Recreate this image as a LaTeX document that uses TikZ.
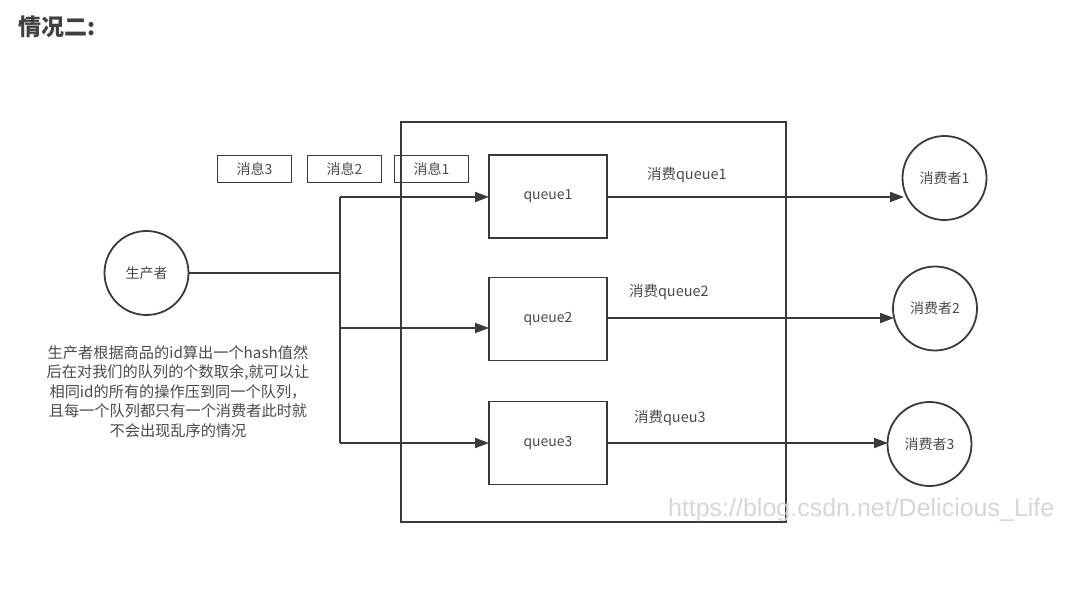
\documentclass[tikz,border=0pt]{standalone}
\usepackage{fontspec}
\setmainfont{Noto Sans CJK SC}
\newfontfamily\wmfont{Liberation Sans}
\usetikzlibrary{arrows.meta}
\definecolor{ln}{HTML}{3A3A3A}
\definecolor{tx}{HTML}{4A4A4A}
\definecolor{wm}{HTML}{D6D6D6}
\begin{document}
\begin{tikzpicture}[x=1pt,y=-1pt,
  every node/.style={inner sep=0pt,outer sep=0pt},
  ln/.style={draw=ln,line width=1.8pt},
  arr/.style={ln,-{Triangle[length=14pt,width=10pt]}},
  msgbox/.style={ln,minimum width=74pt,minimum height=27pt,text=tx,font=\fontsize{14}{16}\selectfont},
  qbox/.style={ln,minimum width=118pt,minimum height=83pt,text=tx,font=\fontsize{14}{16}\selectfont},
  circ/.style={ln,circle,fill=white,minimum size=84pt,text=tx,font=\fontsize{14}{16}\selectfont},
  lbl/.style={text=tx,font=\fontsize{14.5}{16}\selectfont}]
\useasboundingbox (0,0) rectangle (1071,593);
% title
\node[anchor=west,text=black!75,font=\fontsize{23}{26}\selectfont\bfseries] (title) at (19,27) {情况二:};
% big rectangle
\draw[ln] (401,122) rectangle (786,522);
% message boxes
\node[msgbox] (m3) at (254.5,169) {消息3};
\node[msgbox] (m2) at (344.5,169) {消息2};
\node[msgbox] (m1) at (431.5,169) {消息1};
% queues
\node[qbox] (q1) at (548,196.5) {queue1};
\node[qbox] (q2) at (548,319) {queue2};
\node[qbox] (q3) at (548,443) {queue3};
% producer
\node[circ] (p) at (146.5,273) {生产者};
% consumers
\node[circ] (c1) at (944.5,178) {消费者1};
\node[circ] (c2) at (935,308.5) {消费者2};
\node[circ] (c3) at (929.5,444) {消费者3};
% junction coordinates
\coordinate (j0) at (340,273);
\coordinate (j1) at (340,197);
\coordinate (j2) at (340,328);
\coordinate (j3) at (340,443);
\coordinate (e1) at (904,197);
\coordinate (e2) at (894,318);
\coordinate (e3) at (888,443);
% connectors
\draw[ln] (p.east) -- (j0);
\draw[ln] (j1) -- (j3);
\draw[arr] (j1) -- (j1 -| q1.west);
\draw[arr] (j2) -- (j2 -| q2.west);
\draw[arr] (j3) -- (j3 -| q3.west);
\draw[arr] (q1.east |- e1) -- (e1);
\draw[arr] (q2.east |- e2) -- (e2);
\draw[arr] (q3.east |- e3) -- (e3);
% labels
\node[lbl,anchor=west] (l1) at (647,175) {消费queue1};
\node[lbl,anchor=west] (l2) at (629,292) {消费queue2};
\node[lbl,anchor=west] (l3) at (634,418) {消费queu3};
% description
\node[lbl,align=center,font=\fontsize{15.2}{19.5}\selectfont] (desc) at (178,391.5)
 {生产者根据商品的id算出一个hash值然\\后在对我们的队列的个数取余,就可以让\\相同id的所有的操作压到同一个队列，\\且每一个队列都只有一个消费者此时就\\不会出现乱序的情况};
% watermark
\node[anchor=west,text=wm,font=\wmfont\fontsize{25}{27}\selectfont] (wmk) at (668,510) {https://blog.csdn.net/Delicious\_Life};
\end{tikzpicture}
\end{document}
